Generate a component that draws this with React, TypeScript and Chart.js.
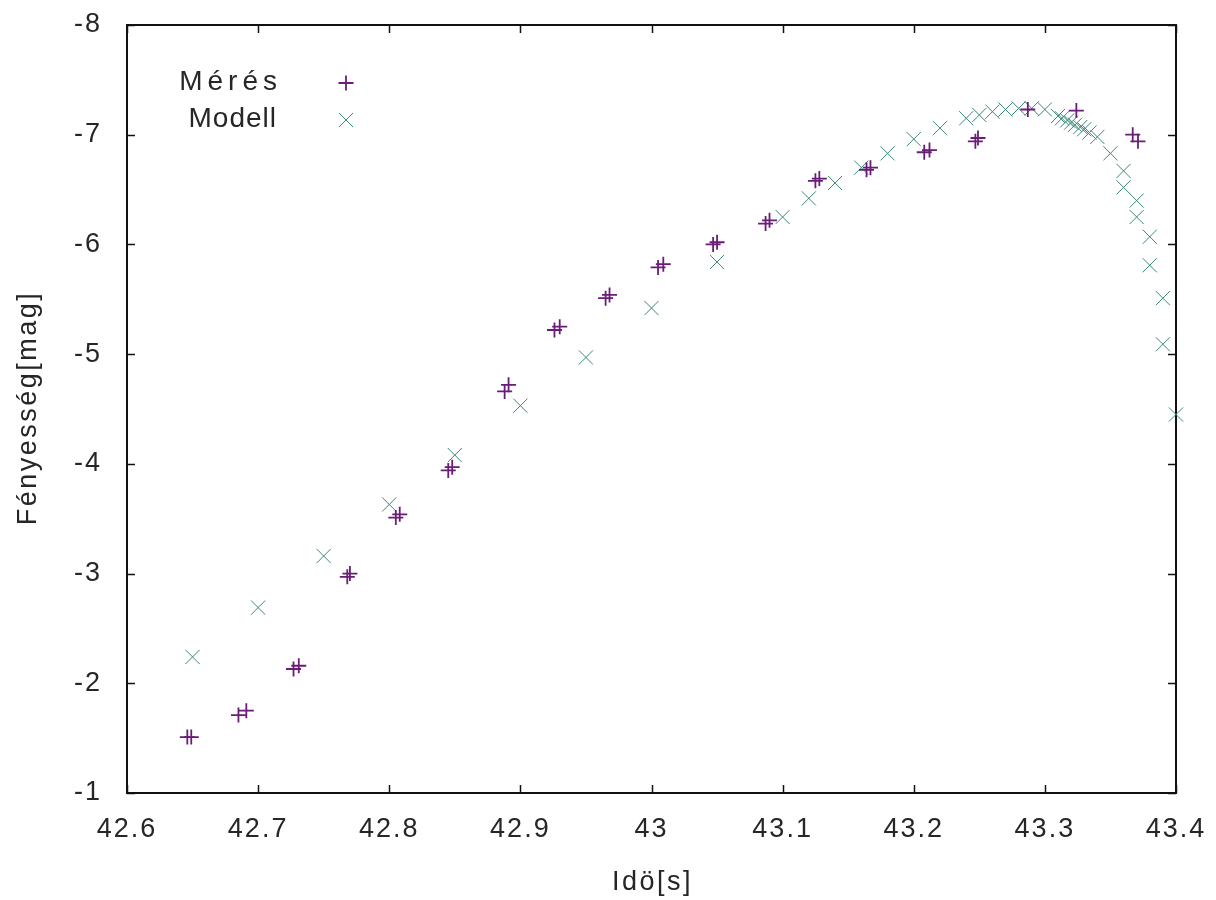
import { useEffect, useRef } from "react";
import { Chart, registerables } from "chart.js";

Chart.register(...registerables);

// Axis tick labels
const xTickLabels = ["42.6", "42.7", "42.8", "42.9", "43", "43.1", "43.2", "43.3", "43.4"];
const yTickLabels = ["-8", "-7", "-6", "-5", "-4", "-3", "-2", "-1"];

// Measured light curve (time [s], brightness [mag])
const meresTime = [
  42.646, 42.649, 42.685, 42.691, 42.727, 42.731, 42.768, 42.770, 42.805, 42.808,
  42.845, 42.848, 42.888, 42.891, 42.926, 42.930, 42.965, 42.968, 43.005, 43.009,
  43.047, 43.050, 43.087, 43.090, 43.125, 43.128, 43.164, 43.167, 43.208, 43.212,
  43.247, 43.249, 43.287, 43.324, 43.367, 43.371,
];
const meresMag = [
  -1.51, -1.51, -1.71, -1.75, -2.13, -2.16, -2.97, -3.0, -3.51, -3.54,
  -3.94, -3.97, -4.66, -4.72, -5.22, -5.25, -5.51, -5.54, -5.79, -5.82,
  -6.0, -6.02, -6.19, -6.22, -6.58, -6.6, -6.68, -6.7, -6.84, -6.86,
  -6.94, -6.97, -7.23, -7.22, -7.0, -6.94,
];

// Model light curve
const modellTime = [
  42.65, 42.7, 42.75, 42.8, 42.85, 42.9, 42.95, 43.0, 43.05, 43.1,
  43.12, 43.14, 43.16, 43.18, 43.2, 43.22, 43.24, 43.25, 43.26, 43.27,
  43.28, 43.29, 43.3, 43.31, 43.313, 43.317, 43.32, 43.323, 43.327, 43.33,
  43.334, 43.34, 43.35, 43.36, 43.36, 43.37, 43.37, 43.38, 43.38, 43.39,
  43.39, 43.4,
];
const modellMag = [
  -2.24, -2.69, -3.16, -3.63, -4.08, -4.53, -4.97, -5.42, -5.84, -6.25,
  -6.42, -6.56, -6.7, -6.83, -6.96, -7.06, -7.15, -7.18, -7.21, -7.23,
  -7.24, -7.24, -7.23, -7.17, -7.15, -7.13, -7.11, -7.09, -7.07, -7.05,
  -7.02, -6.98, -6.83, -6.67, -6.52, -6.4, -6.25, -6.07, -5.81, -5.51,
  -5.09, -4.45,
];

const MERES_COLOR = "#6a1d76";
const MODELL_COLOR = "#3a8878";
const TEXT_COLOR = "#262626";
const FONT_FAMILY = "'Liberation Sans', Arial, sans-serif";

const toPoints = (xs: number[], ys: number[]) => xs.map((x, i) => ({ x, y: ys[i] }));

// Slightly looser letter spacing for every text drawn on the canvas
const spacingPlugin = {
  id: "spacing",
  beforeDraw(chart: any) {
    (chart.ctx as any).letterSpacing = "2px";
  },
};

// Closed frame with inward-pointing ticks on all four sides, plus axis titles
const framePlugin = {
  id: "frame",
  beforeDatasetsDraw(chart: any) {
    const { ctx, chartArea } = chart;
    const { left, right, top, bottom } = chartArea;
    const xs = chart.scales.x;
    const ys = chart.scales.y;
    const tick = 8;
    ctx.save();
    ctx.strokeStyle = "#111111";
    ctx.lineWidth = 1.5;
    ctx.beginPath();
    xs.ticks.forEach((t: any) => {
      const px = Math.round(xs.getPixelForValue(t.value)) + 0.5;
      ctx.moveTo(px, bottom);
      ctx.lineTo(px, bottom - tick);
      ctx.moveTo(px, top);
      ctx.lineTo(px, top + tick);
    });
    ys.ticks.forEach((t: any) => {
      const py = Math.round(ys.getPixelForValue(t.value)) + 0.5;
      ctx.moveTo(left, py);
      ctx.lineTo(left + tick, py);
      ctx.moveTo(right, py);
      ctx.lineTo(right - tick, py);
    });
    ctx.stroke();
    ctx.lineWidth = 2;
    ctx.strokeRect(left, top, right - left, bottom - top);

    // axis titles
    ctx.fillStyle = TEXT_COLOR;
    ctx.font = `27px ${FONT_FAMILY}`;
    ctx.textAlign = "center";
    ctx.textBaseline = "middle";
    ctx.letterSpacing = "2.5px";
    ctx.fillText("Idö[s]", (left + right) / 2 + 1, 883);
    ctx.translate(29, (top + bottom) / 2);
    ctx.rotate(-Math.PI / 2);
    ctx.fillText("Fényesség[mag]", 1, 0);
    ctx.restore();
  },
};

// Key in the upper-left corner: label first, marker sample after it
const keyPlugin = {
  id: "key",
  afterDraw(chart: any) {
    const { ctx } = chart;
    ctx.save();
    ctx.fillStyle = TEXT_COLOR;
    ctx.font = `28px ${FONT_FAMILY}`;
    ctx.textAlign = "right";
    ctx.textBaseline = "middle";
    (ctx as any).letterSpacing = "5px";
    ctx.fillText("Mérés", 282, 82);
    (ctx as any).letterSpacing = "1px";
    ctx.fillText("Modell", 277, 119);

    // "+" sample
    const r = 7.5;
    ctx.strokeStyle = MERES_COLOR;
    ctx.lineWidth = 1.8;
    ctx.beginPath();
    ctx.moveTo(346 - r, 83);
    ctx.lineTo(346 + r, 83);
    ctx.moveTo(346, 83 - r);
    ctx.lineTo(346, 83 + r);
    ctx.stroke();

    // "x" sample
    const d = 7;
    ctx.strokeStyle = MODELL_COLOR;
    ctx.lineWidth = 1;
    ctx.beginPath();
    ctx.moveTo(346 - d, 120 - d);
    ctx.lineTo(346 + d, 120 + d);
    ctx.moveTo(346 + d, 120 - d);
    ctx.lineTo(346 - d, 120 + d);
    ctx.stroke();
    ctx.restore();
  },
};

export default function App() {
  const canvasRef = useRef<HTMLCanvasElement | null>(null);

  useEffect(() => {
    const canvas = canvasRef.current;
    if (!canvas) return;
    const chart = new Chart(canvas, {
      type: "scatter",
      data: {
        datasets: [
          {
            label: "Mérés",
            data: toPoints(meresTime, meresMag),
            pointStyle: "cross",
            pointRadius: 7.5,
            pointBorderWidth: 1.8,
            borderColor: MERES_COLOR,
            backgroundColor: MERES_COLOR,
            clip: false,
          },
          {
            label: "Modell",
            data: toPoints(modellTime, modellMag),
            pointStyle: "crossRot",
            pointRadius: 10,
            pointBorderWidth: 1,
            borderColor: MODELL_COLOR,
            backgroundColor: MODELL_COLOR,
            clip: false,
          },
        ],
      },
      options: {
        responsive: false,
        animation: false,
        layout: { padding: { left: 0, right: 40, top: 25, bottom: 0 } },
        plugins: {
          legend: { display: false },
          tooltip: { enabled: false },
        },
        scales: {
          x: {
            type: "linear",
            position: "bottom",
            min: 42.6,
            max: 43.4,
            grid: { display: false, drawTicks: false },
            border: { display: false },
            ticks: {
              stepSize: 0.1,
              autoSkip: false,
              maxRotation: 0,
              padding: 20,
              color: TEXT_COLOR,
              font: { family: FONT_FAMILY, size: 27 },
              callback: (_v: any, i: number) => xTickLabels[i],
            },
            afterFit: (s: any) => {
              s.height = 107;
              s.paddingLeft = 0;
              s.paddingRight = 0;
            },
          },
          y: {
            type: "linear",
            reverse: true,
            min: -8,
            max: -1,
            grid: { display: false, drawTicks: false },
            border: { display: false },
            ticks: {
              stepSize: 1,
              padding: 25,
              color: TEXT_COLOR,
              font: { family: FONT_FAMILY, size: 27 },
              callback: (v: any) => yTickLabels[Math.round(Number(v)) + 8],
            },
            afterFit: (s: any) => {
              s.width = 127;
              s.paddingTop = 0;
              s.paddingBottom = 0;
            },
          },
        },
      },
      plugins: [spacingPlugin, framePlugin, keyPlugin],
    });
    return () => chart.destroy();
  }, []);

  return (
    <div style={{ position: "fixed", left: 0, top: 0, width: 1216, height: 900, background: "#ffffff" }}>
      <canvas ref={canvasRef} width={1216} height={900} style={{ display: "block" }} />
    </div>
  );
}
